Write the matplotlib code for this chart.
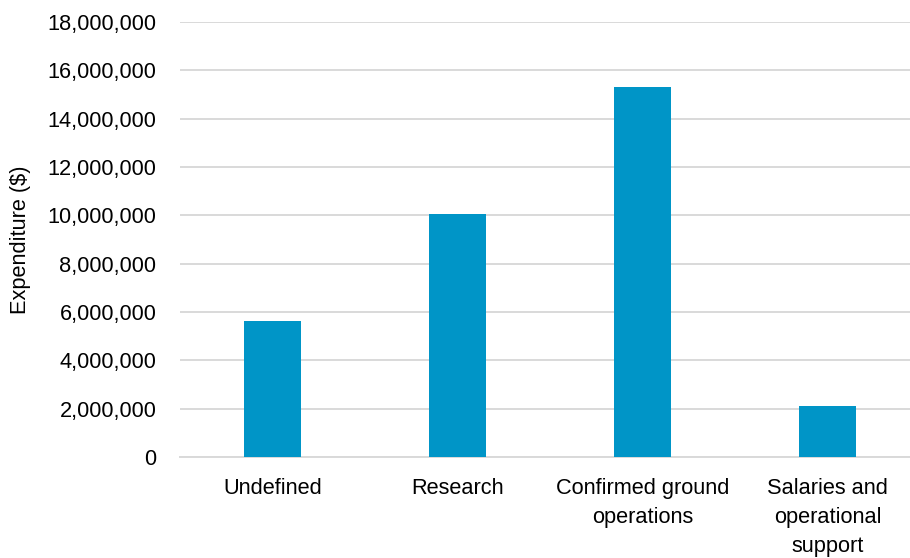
import matplotlib
matplotlib.use('Agg')
import matplotlib.pyplot as plt
from matplotlib.ticker import FuncFormatter

categories = ['Undefined', 'Research', 'Confirmed ground\noperations',
              'Salaries and\noperational\nsupport']
expenditure = [5610000, 10070000, 15330000, 2130000]

plt.rcParams['font.family'] = ['Liberation Sans', 'DejaVu Sans']

fig = plt.figure(figsize=(9.1, 5.58), dpi=100)
# axis runs a little past the right edge of the canvas
ax = fig.add_axes([180 / 910, 1 - 457 / 558, 740 / 910, 435 / 558])

x = range(len(categories))
ax.bar(x, expenditure, width=0.31, color='#0095C7', zorder=3)

ax.set_xlim(-0.5, len(categories) - 0.5)
ax.set_ylim(0, 18000000)
ax.set_yticks(range(0, 18000001, 2000000))
ax.yaxis.set_major_formatter(FuncFormatter(lambda v, p: '{:,.0f}'.format(v)))
ax.grid(axis='y', color='#D9D9D9', linewidth=1.4, zorder=0)

for s in ['top', 'right', 'left']:
    ax.spines[s].set_visible(False)
ax.spines['bottom'].set_color('#D9D9D9')
ax.spines['bottom'].set_linewidth(1.4)

ax.set_xticks(list(x))
ax.set_xticklabels(categories, linespacing=1.5, va='top')
ax.tick_params(axis='both', length=0, labelsize=15.7, colors='black')
ax.tick_params(axis='x', pad=15)
ax.tick_params(axis='y', pad=17)

ax.set_ylabel('Expenditure ($)', fontsize=15.7)
ax.yaxis.set_label_coords((31 - 180) / 740, 0.5)

fig.savefig('out.png', dpi=100)
